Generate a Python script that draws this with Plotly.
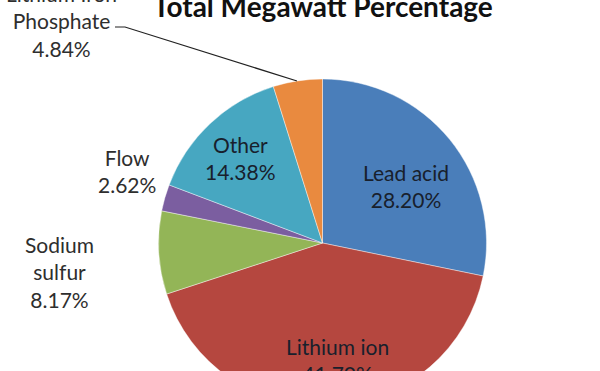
import plotly.graph_objects as go

# ---- data ----
categories = ["Lead acid", "Lithium ion", "Sodium sulfur", "Flow", "Other", "Lithium Iron Phosphate"]
percentages = [28.20, 41.70, 8.17, 2.62, 14.38, 4.84]
colors = ["#4A7EBA", "#B5473F", "#93B557", "#7B5EA0", "#47A7C1", "#E98A3F"]
display_names = {
    "Sodium sulfur": "Sodium<br>sulfur",
    "Lithium Iron Phosphate": "Lithium Iron<br>Phosphate",
}
title_text = "Total Megawatt Percentage"

W, H = 600, 420


def px(x):
    return x / W


def py(y):
    return (H - y) / H


fig = go.Figure()
fig.add_trace(go.Pie(
    labels=categories,
    values=percentages,
    sort=False,
    direction="clockwise",
    rotation=0,
    marker=dict(colors=colors, line=dict(color="rgba(255,255,255,0.6)", width=0.7)),
    textinfo="none",
    hoverinfo="label+percent",
    showlegend=False,
    domain=dict(x=[px(158.5), px(486.5)], y=[py(407), py(79)]),
))

# label positions (pixel centres of each label block)
label_pos = [(406, 186), (337, 360), (59, 272), (127, 171), (240, 158), (61, 21)]
inside = {"Lead acid", "Lithium ion", "Other"}
for name, val, (lx, ly) in zip(categories, percentages, label_pos):
    txt = f"{display_names.get(name, name)}<br>{val:.2f}%"
    fig.add_annotation(
        x=px(lx), y=py(ly), xref="paper", yref="paper",
        text=txt, showarrow=False, xanchor="center", yanchor="middle",
        font=dict(family="Lato, Carlito, sans-serif", size=21,
                  color="#18202C" if name in inside else "#2E2E2E"),
        align="center",
    )

# title (cropped at the top like the reference)
fig.add_annotation(
    x=px(322.5), y=py(6), xref="paper", yref="paper",
    text=f"<b>{title_text}</b>", showarrow=False,
    xanchor="center", yanchor="middle",
    font=dict(family="Lato, Carlito, sans-serif", size=28, color="#111111"),
)

# leader line for the small slice label
fig.add_shape(
    type="path", xref="paper", yref="paper",
    path=f"M {px(115)},{py(27)} L {px(125)},{py(27)} L {px(297)},{py(81)}",
    line=dict(color="#222222", width=1.2),
)

fig.update_layout(
    width=W, height=H,
    margin=dict(l=0, r=0, t=0, b=0),
    paper_bgcolor="white",
    plot_bgcolor="white",
)

fig.write_html(
    "out.html",
    config={"displayModeBar": False},
    post_script="document.body.style.margin='0';document.body.style.overflow='hidden';document.documentElement.style.overflow='hidden';",
)
